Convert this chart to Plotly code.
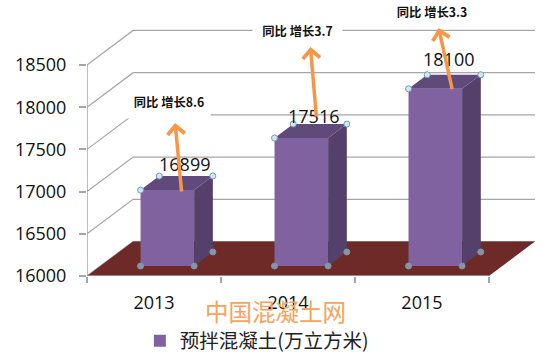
import plotly.graph_objects as go

years = ["2013", "2014", "2015"]
values = [16899, 17516, 18100]
y_ticks = [16000, 16500, 17000, 17500, 18000, 18500]
series_name = "预拌混凝土(万立方米)"
growth_labels = ["同比 增长8.6", "同比 增长3.7", "同比 增长3.3"]
watermark = "中国混凝土网"

# pseudo-3D projection parameters
BASE = 16000
DX, DY = 0.344, 409      # shift of the back wall, in axis units
D0, D1 = 0.29, 0.696     # front and rear depth of the bars
BAR_W = 0.4
XMAX = len(years) + DX
YMAX = 19270


def proj(x, v, d=0.0):
    return x + d * DX, v + d * DY


GRID = "#a6a6a6"
FLOOR = "#6e2a26"
FRONT = "#8062a1"
SIDE = "#54406a"
TOP = "#604a7b"
FONT = "Open Sans, Noto Sans, sans-serif"
CJK = "Noto Sans CJK SC"

fig = go.Figure()


def path(pts, close=False):
    s = "M" + " L".join("%.5f,%.3f" % p for p in pts)
    return s + (" Z" if close else "")


def poly(pts, color):
    fig.add_trace(go.Scatter(x=[p[0] for p in pts], y=[p[1] for p in pts], mode="lines",
                             fill="toself", fillcolor=color, line=dict(width=0, color=color),
                             showlegend=False, hoverinfo="skip"))


# wall gridlines (below the traces)
for v in y_ticks:
    pts = [proj(0, v), proj(0, v, 1), proj(len(years), v, 1)]
    fig.add_shape(type="path", path=path(pts), xref="x", yref="y", layer="below",
                  line=dict(color=GRID, width=1.2))

# floor
fig.add_shape(type="path", xref="x", yref="y", layer="below", fillcolor=FLOOR, line=dict(width=0),
              path=path([proj(0, BASE), proj(len(years), BASE), proj(len(years), BASE, 1), proj(0, BASE, 1)], True))

# left axis line and floor front edge
fig.add_shape(type="line", xref="x", yref="y", layer="below", x0=0, x1=0, y0=BASE, y1=y_ticks[-1],
              line=dict(color=GRID, width=1.5))
fig.add_shape(type="line", xref="x", yref="y", layer="above", x0=0, x1=len(years), y0=BASE, y1=BASE,
              line=dict(color=GRID, width=1.5))

# bars
centers = [i + 0.5 for i in range(len(years))]
fig.add_trace(go.Bar(x=[c + D0 * DX for c in centers], y=[v - BASE for v in values],
                     base=[BASE + D0 * DY] * len(values), width=BAR_W,
                     marker=dict(color=FRONT, line=dict(width=0)), name=series_name,
                     hoverinfo="skip"))
for c, v in zip(centers, values):
    l, r = c - BAR_W / 2, c + BAR_W / 2
    poly([proj(r, BASE, D0), proj(r, BASE, D1), proj(r, v, D1), proj(r, v, D0)], SIDE)
    poly([proj(l, v, D0), proj(r, v, D0), proj(r, v, D1), proj(l, v, D1)], TOP)

# selection handles left on the bars
top_h, bot_h = [], []
for c, v in zip(centers, values):
    l, r = c - BAR_W / 2, c + BAR_W / 2
    top_h += [proj(l, v, D0), proj(l, v, D1), proj(r, v, D1)]
    bot_h += [proj(l, BASE, D0), proj(r, BASE, D0), proj(r, BASE, D1)]
fig.add_trace(go.Scatter(x=[p[0] for p in top_h], y=[p[1] for p in top_h], mode="markers",
                         marker=dict(size=6, color="#d5e6ee", line=dict(color="#6f9fb8", width=1)),
                         showlegend=False, hoverinfo="skip"))
fig.add_trace(go.Scatter(x=[p[0] for p in bot_h], y=[p[1] for p in bot_h], mode="markers",
                         marker=dict(size=6, color="#8496ab", line=dict(color="#7f93a8", width=1)),
                         showlegend=False, hoverinfo="skip"))

# value labels
label_x = [0.7255, 1.69, 2.70]
label_y = [17327, 17896, 18571]
for x, y, v in zip(label_x, label_y, values):
    fig.add_annotation(x=x, y=y, text=str(v), showarrow=False, xanchor="center", yanchor="middle",
                       font=dict(family=FONT, size=18, color="#111111"))

# growth labels on white boxes
growth_x = [0.611, 1.571, 2.574]
growth_y = [18073, 18903, 19131]
box_w = [82, 89, 78]
box_h = [33, 33, 20]
for x, y, t, w, h in zip(growth_x, growth_y, growth_labels, box_w, box_h):
    fig.add_annotation(x=x, y=y, text="<b>%s</b>" % t, showarrow=False, xanchor="center", yanchor="middle",
                       width=w, height=h, bgcolor="#ffffff", borderpad=0,
                       font=dict(family=CJK, size=12.3, color="#111111"))

# growth arrows
tail_x = [0.707, 1.713, 2.728]
tail_y = [16983, 17872, 18196]
tip_x = [0.658, 1.668, 2.625]
tip_y = [17813, 18713, 18938]
for x0, y0, x1, y1 in zip(tail_x, tail_y, tip_x, tip_y):
    fig.add_annotation(x=x1, y=y1, ax=x0, ay=y0, axref="x", ayref="y", text="", showarrow=True,
                       arrowhead=4, arrowsize=0.95, arrowwidth=3.5, arrowcolor="#f79646")

# watermark
fig.add_annotation(xref="paper", yref="paper", x=(275.5 - 87) / 447.7, y=(276 - 311) / 276, text=watermark,
                   showarrow=False, xanchor="center", yanchor="middle",
                   font=dict(family=CJK, size=23.5, color="#f5a35e"))

fig.update_layout(
    width=550, height=355, autosize=False,
    margin=dict(l=87, r=15.3, t=0, b=79, pad=0, autoexpand=False),
    paper_bgcolor="white", plot_bgcolor="white", barmode="overlay",
    showlegend=True,
    legend=dict(x=0.118, y=-0.236, xanchor="left", yanchor="middle", bgcolor="rgba(0,0,0,0)",
                borderwidth=0, tracegroupgap=0, font=dict(family=CJK, size=19.5, color="#222222")),
    xaxis=dict(range=[0, XMAX], showgrid=False, zeroline=False, showline=False,
               tickmode="array", tickvals=centers, ticktext=years, ticks="outside", ticklen=10,
               tickcolor="rgba(0,0,0,0)", tickfont=dict(family=FONT, size=18, color="#111111"),
               minor=dict(tickmode="array", tickvals=list(range(len(years) + 1)), ticks="outside",
                          ticklen=6, tickcolor=GRID, tickwidth=1.5, showgrid=False)),
    yaxis=dict(range=[BASE, YMAX], showgrid=False, zeroline=False, showline=False,
               tickmode="array", tickvals=y_ticks, ticks="outside", ticklen=7, tickcolor=GRID,
               tickwidth=1.5, ticklabelstandoff=9, tickformat="d",
               tickfont=dict(family=FONT, size=18, color="#111111")),
)
fig.write_html("out.html", config={"displayModeBar": False},
               post_script="document.body.style.margin='0';document.body.style.overflow='hidden';")
